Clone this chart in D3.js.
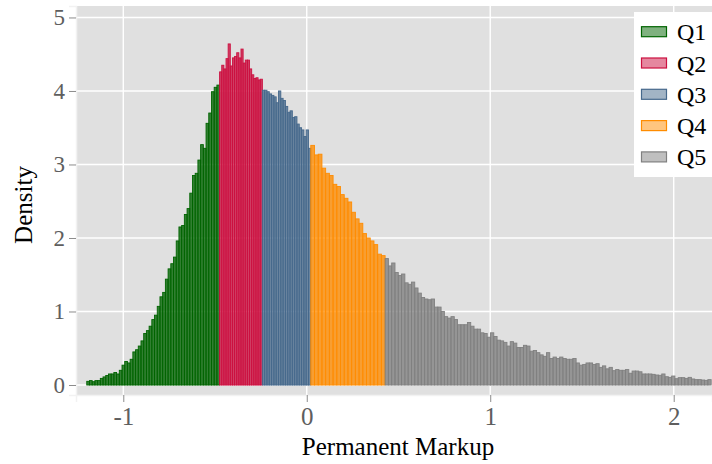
<!DOCTYPE html>
<html>
<head>
<meta charset="utf-8">
<script src="https://cdn.jsdelivr.net/npm/d3@7"></script>
<style>
  body { margin: 0; background: #fff; }
  svg text { font-family: "Liberation Serif", "Times New Roman", serif; }
</style>
</head>
<body>
<svg id="chart" width="712" height="464"></svg>
<script>
// quintile labels and colours
const quintiles = ["Q1", "Q2", "Q3", "Q4", "Q5"];
const colors = ["#006400", "#cc1040", "#46698c", "#ff8c00", "#808080"];

// bin range of each quintile (Permanent Markup)
const quintileBreaks = [-1.199, -0.475, -0.242, 0.022, 0.427, 2.204];

// density per bin
const q1Density = [0.05, 0.06, 0.045, 0.06, 0.06, 0.09, 0.11, 0.13, 0.15, 0.15,
  0.17, 0.15, 0.20, 0.27, 0.32, 0.30, 0.35, 0.45, 0.48, 0.53,
  0.60, 0.70, 0.74, 0.80, 0.89, 0.95, 1.07, 1.20, 1.26, 1.44,
  1.58, 1.65, 1.74, 1.96, 2.15, 2.17, 2.32, 2.40, 2.61, 2.85,
  2.88, 3.06, 3.27, 3.22, 3.56, 3.70, 3.99, 4.05, 4.08];
const q2Density = [4.26, 4.35, 4.30, 4.44, 4.64, 4.34, 4.45, 4.47, 4.52, 4.45,
  4.57, 4.38, 4.42, 4.42, 4.30, 4.22, 4.17, 4.18, 4.15, 4.16];
const q3Density = [4.01, 4.01, 3.99, 3.96, 3.94, 3.92, 3.84, 4.00, 3.90, 3.87,
  3.79, 3.71, 3.73, 3.64, 3.65, 3.55, 3.50, 3.47, 3.38, 3.47, 3.22];
const q4Density = [3.26, 3.13, 3.14, 2.95, 2.88, 2.85, 2.73, 2.70, 2.59, 2.54,
  2.49, 2.35, 2.26, 2.20, 2.06, 2.00, 1.96, 1.91, 1.78, 1.76];
const q5Density = [1.72, 1.62, 1.66, 1.53, 1.49, 1.51, 1.39, 1.37, 1.40, 1.32,
  1.25, 1.19, 1.17, 1.16, 1.17, 1.06, 1.06, 1.00, 0.93, 0.91,
  0.93, 0.89, 0.82, 0.82, 0.82, 0.85, 0.80, 0.76, 0.76, 0.71,
  0.70, 0.65, 0.71, 0.66, 0.61, 0.60, 0.58, 0.53, 0.59, 0.57,
  0.51, 0.51,
  0.54, 0.53, 0.46, 0.47, 0.44, 0.41, 0.39, 0.44, 0.36, 0.38,
  0.36, 0.38, 0.36, 0.35, 0.35, 0.36, 0.30, 0.27, 0.28, 0.30,
  0.30, 0.28, 0.29, 0.24, 0.26, 0.22, 0.24, 0.195, 0.21, 0.20,
  0.20, 0.21, 0.16, 0.19, 0.19, 0.18, 0.15, 0.15, 0.15, 0.145,
  0.136, 0.132, 0.15, 0.113, 0.104, 0.122, 0.086, 0.10, 0.10, 0.09,
  0.104, 0.082, 0.073, 0.073, 0.068, 0.063, 0.073];
const densities = [q1Density, q2Density, q3Density, q4Density, q5Density];

const xTicks = [-1, 0, 1, 2];
const yTicks = [0, 1, 2, 3, 4, 5];

const margin = {top: 6, right: 0, bottom: 69, left: 76};
const width = 712 - margin.left - margin.right;
const height = 464 - margin.top - margin.bottom;

const svg = d3.select("#chart");
const g = svg.append("g")
  .attr("transform", "translate(" + margin.left + "," + margin.top + ")");

const x = d3.scaleLinear().domain([-1.2577, 2.2087]).range([0, width]);
const y = d3.scaleLinear().domain([-0.136, 5.156]).range([height, 0]);

// panel
g.append("rect")
  .attr("width", width)
  .attr("height", height)
  .attr("fill", "#e0e0e0");

// grid
g.append("g")
  .selectAll("line")
  .data(yTicks)
  .enter()
  .append("line")
  .attr("x1", 0).attr("x2", width)
  .attr("y1", d => y(d)).attr("y2", d => y(d))
  .attr("stroke", "#fff")
  .attr("stroke-width", 1.4);
g.append("g")
  .selectAll("line")
  .data(xTicks)
  .enter()
  .append("line")
  .attr("y1", 0).attr("y2", height)
  .attr("x1", d => x(d)).attr("x2", d => x(d))
  .attr("stroke", "#fff")
  .attr("stroke-width", 1.4);

// build bins from the quintile ranges
const bins = [];
densities.forEach((vals, q) => {
  const w = (quintileBreaks[q + 1] - quintileBreaks[q]) / vals.length;
  vals.forEach((v, i) => {
    bins.push({q: q, x0: quintileBreaks[q] + i * w, x1: quintileBreaks[q] + (i + 1) * w, v: v});
  });
});

g.append("g")
  .selectAll("rect")
  .data(bins)
  .enter()
  .append("rect")
  .attr("x", d => x(d.x0))
  .attr("y", d => y(d.v))
  .attr("width", d => x(d.x1) - x(d.x0))
  .attr("height", d => y(0) - y(d.v))
  .attr("fill", d => colors[d.q])
  .attr("fill-opacity", 0.78)
  .attr("stroke", d => colors[d.q])
  .attr("stroke-width", 0.9);

// axes
const yAxis = d3.axisLeft(y).tickValues(yTicks).tickSize(7).tickPadding(4).tickFormat(d3.format("d"));
const xAxis = d3.axisBottom(x).tickValues(xTicks).tickSize(7).tickPadding(5).tickFormat(d => d < 0 ? "-" + (-d) : String(d));

const ya = g.append("g").call(yAxis);
const xa = g.append("g").attr("transform", "translate(0," + height + ")").call(xAxis);
[ya, xa].forEach(a => {
  a.select(".domain").attr("stroke", "#f2f2f2").attr("stroke-width", 1.5);
  a.selectAll(".tick line").attr("stroke", "#8c8c8c");
  a.selectAll(".tick text")
    .attr("fill", "#5e5e5e")
    .style("font-family", "Liberation Serif");
});
ya.selectAll(".tick text").attr("font-size", 23);
xa.selectAll(".tick text").attr("font-size", 25);

// axis titles
svg.append("text")
  .attr("x", 398)
  .attr("y", 455)
  .attr("text-anchor", "middle")
  .attr("font-size", 25)
  .attr("fill", "#000")
  .text("Permanent Markup");
svg.append("text")
  .attr("transform", "translate(32,205) rotate(-90)")
  .attr("text-anchor", "middle")
  .attr("font-size", 25)
  .attr("fill", "#000")
  .text("Density");

// legend
const legend = svg.append("g").attr("transform", "translate(634,12)");
legend.append("rect")
  .attr("width", 90)
  .attr("height", 165)
  .attr("fill", "#fff");
const item = legend.selectAll(".item")
  .data(quintiles)
  .enter()
  .append("g")
  .attr("class", "item")
  .attr("transform", (d, i) => "translate(0," + (19.7 + i * 31.3) + ")");
item.append("rect")
  .attr("x", 7.5).attr("y", -5)
  .attr("width", 25).attr("height", 10)
  .attr("fill", (d, i) => colors[i])
  .attr("fill-opacity", 0.5)
  .attr("stroke", (d, i) => colors[i])
  .attr("stroke-width", 1.2);
item.append("text")
  .attr("x", 43)
  .attr("y", 8.5)
  .attr("font-size", 24)
  .attr("fill", "#000")
  .text(d => d);
</script>
</body>
</html>
